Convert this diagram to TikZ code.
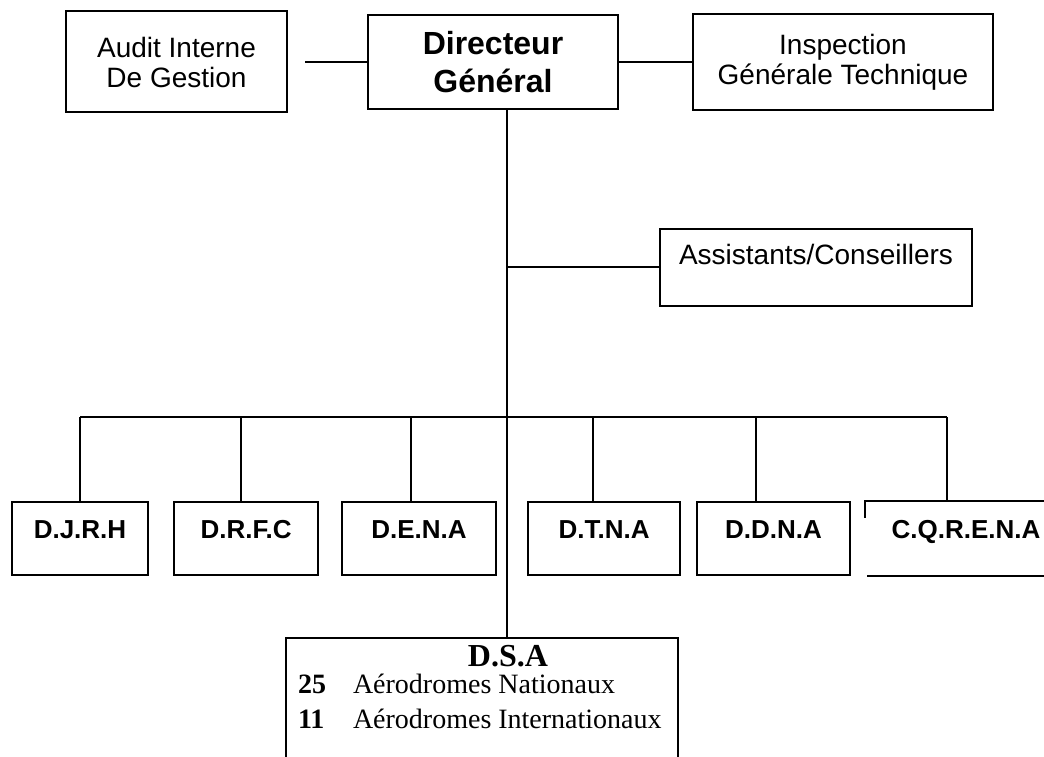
\documentclass[tikz,border=0pt]{standalone}
\usepackage{fontspec}
\setmainfont{Liberation Serif}
\setsansfont{Liberation Sans}
\usetikzlibrary{positioning}

\begin{document}
\begin{tikzpicture}[x=1pt, y=-1pt, line width=2pt, inner sep=0pt,
    topbox/.style={draw, rectangle, align=center, font=\sffamily\fontsize{28}{30}\selectfont},
    unitbox/.style={draw, rectangle, minimum height=73pt, text height=19pt, text depth=19pt,
        font=\sffamily\bfseries\fontsize{26}{30}\selectfont}]
    \path[use as bounding box, clip] (0,0) rectangle (1044,757);

    % Top row
    \node[topbox, minimum width=250pt, minimum height=94pt,
        font=\sffamily\bfseries\fontsize{32}{38}\selectfont] (dg) at (493,62) {Directeur\\Général};
    \node[topbox, minimum width=221pt, minimum height=101pt, left=79pt of dg] (audit) {Audit Interne\\De Gestion};
    \node[topbox, minimum width=300pt, minimum height=96pt, right=73pt of dg] (insp) {Inspection\\Générale Technique};

    % Assistants
    \node[topbox, minimum width=312pt, minimum height=77pt, text height=20pt, text depth=25pt] (assist) at (816,267) {Assistants/Conseillers};

    % Bus
    \coordinate (bus) at (507,417);

    % Directions
    \node[unitbox, minimum width=136pt] (djrh) at (80,538) {D.J.R.H};
    \node[unitbox, minimum width=144pt, right=24pt of djrh] (drfc) {D.R.F.C};
    \node[unitbox, minimum width=154pt, right=22pt of drfc] (dena) {D.E.N.A};
    \node[unitbox, minimum width=152pt, right=30pt of dena] (dtna) {D.T.N.A};
    \node[unitbox, minimum width=153pt, right=15pt of dtna] (ddna) {D.D.N.A};
    \node[unitbox, draw=none, minimum width=200pt, right=14pt of ddna] (cqrena) {C.Q.R.E.N.A};
    \draw (cqrena.north east) -- (cqrena.north west) -- ++(0,17);
    \draw ([xshift=2pt]cqrena.south west) -- (cqrena.south east);

    % D.S.A
    \node[draw, rectangle, minimum width=392pt, minimum height=130pt, anchor=north] (dsa) at (482,637) {};
    \node[font=\bfseries\fontsize{32}{34}\selectfont, anchor=base] (dsatitle) at (508,666) {D.S.A};
    \node[font=\fontsize{28}{34}\selectfont, anchor=base west] (dsanat) at (297,693)
        {\makebox[55pt][l]{\textbf{25}}Aérodromes Nationaux};
    \node[font=\fontsize{28}{34}\selectfont, anchor=base west] (dsaint) at (297,728)
        {\makebox[55pt][l]{\textbf{11}}Aérodromes Internationaux};

    % Connectors
    \draw ([xshift=17pt]audit.east) -- (dg.west);
    \draw (dg.east) -- (insp.west);
    \draw (dg.south -| bus) -- (dsa.north -| bus);
    \draw (assist.west) -- (assist.west -| bus);
    \foreach \n/\dx in {djrh/0, drfc/-5, dena/-8, dtna/-11, ddna/-18, cqrena/-19} {
        \path ([xshift=\dx pt]\n.north) coordinate (\n-top);
        \draw (\n-top) -- (\n-top |- bus);
    }
    \draw (djrh-top |- bus) -- (cqrena-top |- bus);
\end{tikzpicture}
\end{document}
